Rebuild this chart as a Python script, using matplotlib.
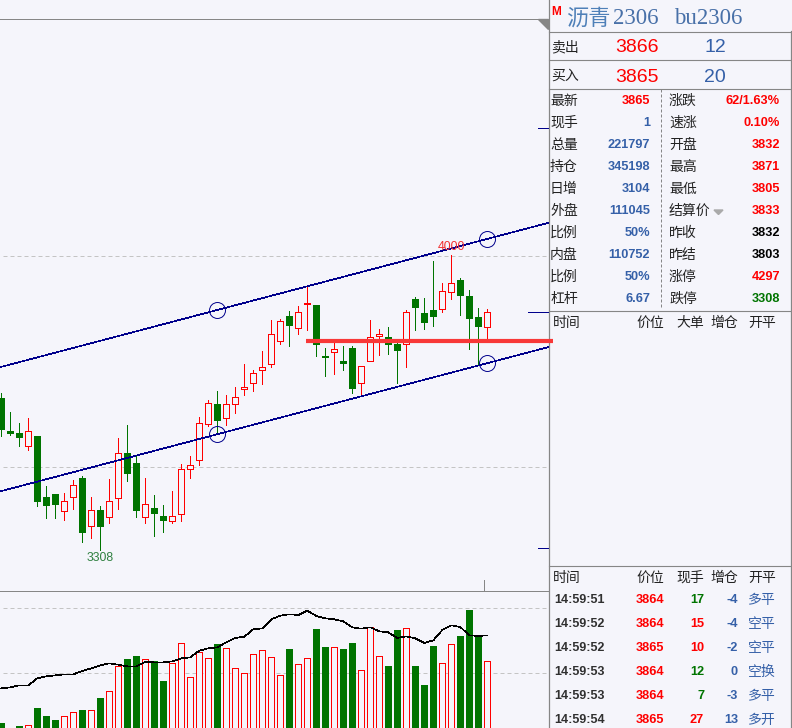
import matplotlib
matplotlib.use("Agg")
import matplotlib.pyplot as plt
import numpy as np

CJK = ["Noto Sans CJK SC", "DejaVu Sans"]
SANS = ["Liberation Sans", "Noto Sans CJK SC"]
SERIF = ["Liberation Serif", "Noto Sans CJK SC"]
plt.rcParams["font.family"] = CJK

# candles
opens = [3664, 3588, 3582, 3553, 3576, 3433, 3440, 3400, 3433, 3477, 3365, 3402, 3386, 3431, 3536, 3512, 3386, 3407, 3388, 3377,
         3393, 3499, 3520, 3603, 3651, 3619, 3652, 3687, 3701, 3732, 3746, 3800, 3858, 3830, 3885, 3884, 3764, 3774, 3752, 3783,
         3701, 3751, 3812, 3809, 3792, 3791, 3898, 3865, 3872, 3875, 3915, 3942, 3905, 3856, 3833]
highs = [3676, 3632, 3606, 3617, 3576, 3458, 3440, 3441, 3472, 3482, 3433, 3411, 3475, 3571, 3602, 3531, 3477, 3437, 3414, 3447,
         3510, 3529, 3621, 3660, 3682, 3672, 3691, 3745, 3731, 3776, 3849, 3851, 3870, 3881, 3928, 3884, 3783, 3797, 3787, 3787,
         3740, 3849, 3827, 3832, 3797, 3872, 3903, 3900, 3987, 3935, 4001, 3947, 3919, 3877, 3874]
lows = [3576, 3578, 3552, 3543, 3411, 3382, 3383, 3378, 3405, 3327, 3335, 3308, 3371, 3404, 3470, 3386, 3371, 3341, 3350, 3371,
        3376, 3477, 3508, 3599, 3581, 3602, 3630, 3672, 3682, 3698, 3738, 3792, 3787, 3816, 3825, 3764, 3717, 3722, 3731, 3677,
        3670, 3751, 3766, 3769, 3700, 3738, 3825, 3827, 3834, 3867, 3898, 3860, 3780, 3743, 3806]
closes = [3590, 3581, 3571, 3587, 3421, 3411, 3414, 3422, 3460, 3348, 3401, 3362, 3422, 3535, 3487, 3400, 3415, 3393, 3376, 3389,
          3498, 3507, 3606, 3653, 3611, 3650, 3667, 3690, 3723, 3737, 3815, 3845, 3834, 3867, 3888, 3790, 3759, 3780, 3745, 3686,
          3740, 3808, 3815, 3790, 3776, 3867, 3877, 3841, 3856, 3917, 3935, 3905, 3851, 3832, 3867]
volumes = [171, 150, 162, 164, 216, 192, 180, 191, 203, 210, 209, 246, 266, 341, 363, 372, 362, 357, 297, 350,
           410, 308, 383, 365, 408, 395, 335, 320, 377, 389, 368, 314, 393, 347, 365, 453, 399, 398, 393, 411,
           329, 458, 371, 342, 450, 455, 342, 285, 402, 350, 407, 432, 510, 435, 356]
vol_ma = [275, 278, 284, 284, 305, 311, 314, 317, 317, 327, 335, 344, 350, 346, 341, 341, 354, 353, 353, 356,
          365, 368, 388, 395, 398, 413, 426, 430, 452, 455, 482, 493, 497, 495, 508, 492, 485, 482, 476, 458,
          454, 458, 446, 443, 426, 431, 425, 411, 419, 450, 464, 459, 434, 432, 434]

# drawn channel: two anchors per line
channel_x = [24, 54]
channel_upper = [3872, 4039]
channel_lower = [3580, 3747]
support_price = 3799
support_start = 34
support_end = 61.3
price_grid = [4000, 3502]
vol_grid = [517, 322]
right_marks = [4299, 3867, 3313]

left_labels = ["最新", "现手", "总量", "持仓", "日增", "外盘", "比例", "内盘", "比例", "杠杆"]
left_values = ["3865", "1", "221797", "345198", "3104", "111045", "50%", "110752", "50%", "6.67"]
right_labels = ["涨跌", "速涨", "开盘", "最高", "最低", "结算价", "昨收", "昨结", "涨停", "跌停"]
right_values = ["62/1.63%", "0.10%", "3832", "3871", "3805", "3833", "3832", "3803", "4297", "3308"]

tick_times = ["14:59:51", "14:59:52", "14:59:52", "14:59:53", "14:59:53", "14:59:54"]
tick_prices = ["3864", "3864", "3865", "3864", "3864", "3865"]
tick_sizes = ["17", "15", "10", "12", "7", "27"]
tick_deltas = ["-4", "-4", "-2", "0", "-3", "13"]
tick_kinds = ["多平", "空平", "空平", "空换", "多平", "多开"]

BG = "#f5f5fb"
RED = "#ff0000"
GREEN = "#007400"
NAVY = "#00008c"
BLUE = "#3560a8"
GRAY = "#868686"
DASH = "#c4c4c4"
PX = 0.72
THIN = 0.45  # sloped lines, non antialiased

W, H = 792, 728
fig = plt.figure(figsize=(W / 100, H / 100), dpi=100, facecolor=BG)

panel = fig.add_axes([0, 0, 1, 1], zorder=0)
panel.set_xlim(0, W)
panel.set_ylim(H, 0)
panel.axis("off")

CHART_R = 548.5
ax = fig.add_axes([0, 1 - 591 / H, CHART_R / W, (591 - 19) / H], zorder=2)
vax = fig.add_axes([0, 0, CHART_R / W, (H - 592) / H], zorder=2)

x_left = -1.3 / 9
x_right = (CHART_R - 1.3) / 9
ax.set_xlim(x_left, x_right)
ax.set_ylim(3211.6, 4555.8)
vax.set_xlim(x_left, x_right)
vax.set_ylim(156, 564)
for a in (ax, vax):
    a.axis("off")

idx = np.arange(len(opens))
o, h, l, c = map(np.array, (opens, highs, lows, closes))
up = c >= o

# grid
ax.hlines(price_grid, 0.2, x_right, colors=DASH, linestyles=(0, (4, 3)), linewidth=PX)
vax.hlines(vol_grid, 0.2, x_right, colors=DASH, linestyles=(0, (4, 3)), linewidth=PX)

# candles
ax.vlines(idx[up], l[up], h[up], colors=RED, linewidth=PX, antialiased=False, zorder=2)
ax.vlines(idx[~up], l[~up], h[~up], colors=GREEN, linewidth=PX, antialiased=False, zorder=2)
ax.bar(idx[up], (c - o)[up], bottom=o[up], width=0.67, facecolor=BG, edgecolor=RED,
       linewidth=PX, antialiased=False, zorder=3)
ax.bar(idx[~up], (o - c)[~up], bottom=c[~up], width=0.78, color=GREEN,
       linewidth=0, antialiased=False, zorder=3)

# channel lines and their handles
for ys in (channel_upper, channel_lower):
    slope = (ys[1] - ys[0]) / (channel_x[1] - channel_x[0])
    xs = np.array([x_left, x_right])
    ax.plot(xs, ys[0] + slope * (xs - channel_x[0]), color=NAVY, linewidth=THIN, antialiased=False, zorder=4)
    ax.plot(channel_x, ys, "o", mfc="none", mec=NAVY, mew=0.7, ms=11.5, zorder=4)

ax.plot([support_start - 0.1, support_end], [support_price, support_price], color="#f83838",
        linewidth=3.0, solid_capstyle="butt", clip_on=False, zorder=5)

# marks on the right edge
ax.hlines(right_marks[0], x_right - 1.2, x_right, colors=NAVY, linewidth=PX, antialiased=False)
ax.hlines(right_marks[1], x_right - 2.3, x_right, colors=NAVY, linewidth=PX, antialiased=False)
ax.hlines(right_marks[2], x_right - 1.2, x_right, colors=NAVY, linewidth=PX, antialiased=False)

hi = int(np.argmax(h))
lo = int(np.argmin(l))
ax.annotate(str(h[hi] - 1), (hi, h[hi]), xytext=(0, 5.5), textcoords="offset points", ha="center", va="center",
            color="#f03030", fontsize=8.8, family=SANS, zorder=6)
ax.annotate(str(l[lo]), (lo, l[lo]), xytext=(0, -5.5), textcoords="offset points", ha="center", va="center",
            color="#2f8040", fontsize=8.8, family=SANS, zorder=6)

# volume
vol = np.array(volumes)
vax.bar(idx[up], vol[up], width=0.67, facecolor=BG, edgecolor=RED, linewidth=PX, antialiased=False, zorder=3)
vax.bar(idx[~up], vol[~up], width=0.78, color=GREEN, linewidth=0, antialiased=False, zorder=3)
vax.plot(idx, vol_ma, color="black", linewidth=THIN, antialiased=False, zorder=4)

# frame lines
panel.plot([0, 538], [18.5, 18.5], color=GRAY, linewidth=PX)
panel.fill([538, 548, 548], [18.5, 18.5, 28.5], color=GRAY)
panel.plot([0, CHART_R], [591, 591], color=GRAY, linewidth=PX)
panel.plot([CHART_R, CHART_R], [0, H], color=GRAY, linewidth=0.9)
panel.plot([790.5, 790.5], [31, H], color=GRAY, linewidth=0.9)
panel.plot([484, 484], [580, 591], color=GRAY, linewidth=PX)
for y in (31.5, 59.5, 88.5, 310.5, 565.5):
    panel.plot([CHART_R, 790.5], [y, y], color=GRAY, linewidth=0.8)
panel.plot([660.5, 660.5], [88.5, 308], color=GRAY, linewidth=PX, linestyle=(0, (3, 2)))

# title row
panel.text(551, 12, "M", color=RED, fontsize=8.5, fontweight="bold", family=SANS, ha="left", va="center")
panel.text(566, 18, "沥青", color="#4f80b8", fontsize=16, family=CJK, ha="left", va="center")
panel.text(613, 18, "2306", color="#4870a8", fontsize=16.5, family=SERIF, ha="left", va="center")
panel.text(674, 18, "bu2306", color="#4870a8", fontsize=16.5, family=SERIF, ha="left", va="center")

# bid / ask
for y, name, price, size in ((46, "卖出", "3866", "12"), (75, "买入", "3865", "20")):
    panel.text(551, y + 1, name, color="#222222", fontsize=10, family=CJK, ha="left", va="center")
    panel.text(659, y + 2, price, color=RED, fontsize=14, family=SANS, ha="right", va="center")
    panel.text(726, y + 2, size, color=BLUE, fontsize=14, family=SANS, ha="right", va="center")

# quote block
right_colors = [RED] * 6 + ["black", "black", RED, GREEN]
for i in range(len(left_labels)):
    y = 100 + 22 * i
    panel.text(550, y + 1, left_labels[i], color="#222222", fontsize=10, family=CJK, ha="left", va="center")
    panel.text(650, y + 1, left_values[i], color=RED if i == 0 else BLUE, fontsize=9.2, fontweight="bold",
               family=SANS, ha="right", va="center")
    panel.text(669, y + 1, right_labels[i], color="#222222", fontsize=10, family=CJK, ha="left", va="center")
    panel.text(780, y + 1, right_values[i], color=right_colors[i], fontsize=9.2, fontweight="bold",
               family=SANS, ha="right", va="center")
panel.fill([714, 723, 718.5], [210, 210, 214.5], color="#aaaaaa")

# tick tables
for y, third in ((323, "大单"), (578, "现手")):
    for x, s in ((553, "时间"), (636, "价位"), (676, third), (710, "增仓"), (748, "开平")):
        panel.text(x, y, s, color="#222222", fontsize=10, family=CJK, ha="left", va="center")

size_colors = [GREEN, RED, RED, GREEN, GREEN, RED]
for i in range(len(tick_times)):
    y = 600 + 24 * i
    panel.text(554, y, tick_times[i], color="#303030", fontsize=9, fontweight="bold", family=SANS, ha="left", va="center")
    panel.text(664, y, tick_prices[i], color=RED, fontsize=9.2, fontweight="bold", family=SANS, ha="right", va="center")
    panel.text(704, y, tick_sizes[i], color=size_colors[i], fontsize=9.2, fontweight="bold", family=SANS, ha="right", va="center")
    panel.text(738, y, tick_deltas[i], color=BLUE, fontsize=9.2, fontweight="bold", family=SANS, ha="right", va="center")
    panel.text(748, y, tick_kinds[i], color=BLUE, fontsize=10, family=CJK, ha="left", va="center")

fig.savefig("out.png", dpi=100, facecolor=BG)
